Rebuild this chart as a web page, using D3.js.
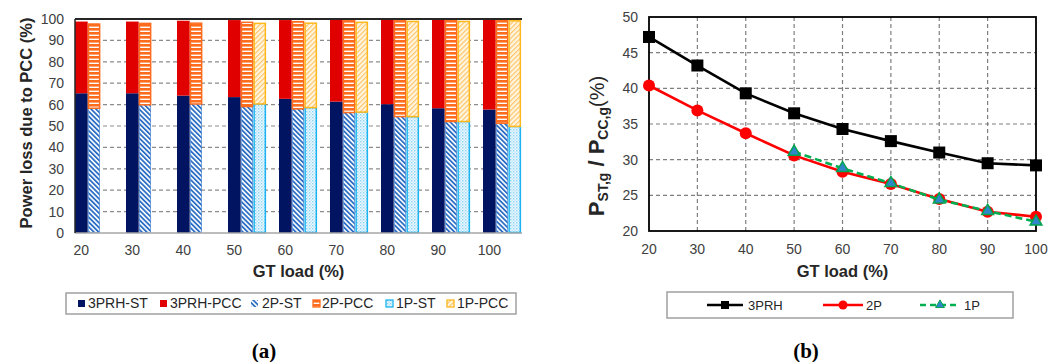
<!DOCTYPE html>
<html><head><meta charset="utf-8">
<script src="https://cdn.jsdelivr.net/npm/d3@7"></script>
<style>body{margin:0;background:#fff;}svg{display:block;font-family:"Liberation Sans",Arial,sans-serif;}</style>
</head><body>
<svg id="c" width="1061" height="362"></svg>
<script>
// ---------- data ----------
const categories = [20,30,40,50,60,70,80,90,100];
const st3PRH  = [65.3,65.3,64.2,63.5,62.7,61.4,60.2,58.3,57.7];
const pcc3PRH = [33.5,33.5,35.0,36.0,36.8,38.6,39.8,41.7,42.3];
const st2P    = [58.3,59.9,60.3,59.1,58.0,56.3,54.4,52.1,51.3];
const pcc2P   = [39.7,38.4,38.1,39.7,41.1,43.2,45.1,47.7,48.7];
const st1P    = [null,null,null,60.3,58.6,56.5,54.4,52.1,49.8];
const pcc1P   = [null,null,null,38.0,39.8,42.3,44.8,47.1,49.7];
const barYTicks = [0,10,20,30,40,50,60,70,80,90,100];

const loads = [20,30,40,50,60,70,80,90,100];
const ratio3PRH = [47.2,43.2,39.3,36.5,34.3,32.6,31.0,29.5,29.2];
const ratio2P   = [40.4,36.9,33.7,30.6,28.3,26.6,24.5,22.7,22.0];
const ratio1P   = [null,null,null,31.1,28.8,26.7,24.4,22.8,21.3];
const lineYTicks = [20,25,30,35,40,45,50];

const svg = d3.select("#c");
const defs = svg.append("defs");
// patterns
function stripePat(id, size, color, bg, w, rot){
  const p = defs.append("pattern").attr("id",id).attr("patternUnits","userSpaceOnUse")
    .attr("width",size).attr("height",size);
  if(rot!==null) p.attr("patternTransform","rotate("+rot+")");
  p.append("rect").attr("width",size).attr("height",size).attr("fill",bg);
  p.append("rect").attr("width",w).attr("height",size).attr("fill",color);
}
stripePat("p2pst",3.4,"#2c6fc4","#ffffff",1.8,-45);
stripePat("p1ppcc",3.4,"#ffc56a","#fff6e2",1.2,45);
{
  const p = defs.append("pattern").attr("id","p2ppcc").attr("patternUnits","userSpaceOnUse").attr("width",4).attr("height",4);
  p.append("rect").attr("width",4).attr("height",4).attr("fill","#ffffff");
  p.append("rect").attr("width",4).attr("height",2.6).attr("fill","#ff6c1e");
}
{
  const p = defs.append("pattern").attr("id","p1pst").attr("patternUnits","userSpaceOnUse").attr("width",3).attr("height",3);
  p.append("rect").attr("width",3).attr("height",3).attr("fill","#eef8fe");
  p.append("rect").attr("width",1.4).attr("height",1.4).attr("fill","#8ad4f6");
  p.append("rect").attr("x",1.5).attr("y",1.5).attr("width",1.4).attr("height",1.4).attr("fill","#b5e3fa");
}

const tickColor = "#404040";

// ---------- chart (a) ----------
const A = {left:75, right:522, top:19, bottom:233};
const xA = d3.scaleBand().domain(categories).range([A.left, A.left + 51*categories.length]).padding(0);
const groups = ["3PRH","2P","1P"];
const xIn = d3.scaleBand().domain(groups).range([0, 38.1]).padding(0);
const yA = d3.scaleLinear().domain([0,100]).range([A.bottom, A.top]);

const gA = svg.append("g");
// grid
gA.selectAll("line.grid").data(barYTicks.filter(t=>t>0 && t<100)).join("line")
  .attr("x1",A.left).attr("x2",A.right).attr("y1",d=>yA(d)).attr("y2",d=>yA(d))
  .attr("stroke","#8c8c8c").attr("stroke-width",1.2).attr("stroke-dasharray","4,3");

const seriesA = [
  {g:"3PRH", st:st3PRH, pcc:pcc3PRH, stFill:"#001462", pccFill:"#e00000", stStroke:"none", pccStroke:"none"},
  {g:"2P", st:st2P, pcc:pcc2P, stFill:"url(#p2pst)", pccFill:"url(#p2ppcc)", stStroke:"#3a7bd0", pccStroke:"#ff6c1e"},
  {g:"1P", st:st1P, pcc:pcc1P, stFill:"url(#p1pst)", pccFill:"url(#p1ppcc)", stStroke:"#1cb4f0", pccStroke:"#ffb81c"}
];
seriesA.forEach(s=>{
  const data = categories.map((c,i)=>({c, st:s.st[i], pcc:s.pcc[i]})).filter(d=>d.st!==null);
  const inset = s.stStroke==="none" ? 0 : 0.75;
  gA.selectAll(null).data(data).join("rect")
    .attr("x",d=>xA(d.c)+xIn(s.g)+inset).attr("width",xIn.bandwidth()-2*inset)
    .attr("y",d=>yA(d.st)).attr("height",d=>yA(0)-yA(d.st)-(inset?0.5:0))
    .attr("fill",s.stFill).attr("stroke",s.stStroke).attr("stroke-width",s.g==="2P"?0.6:1.5);
  gA.selectAll(null).data(data).join("rect")
    .attr("x",d=>xA(d.c)+xIn(s.g)+inset).attr("width",xIn.bandwidth()-2*inset)
    .attr("y",d=>yA(d.st+d.pcc)+inset).attr("height",d=>yA(d.st)-yA(d.st+d.pcc)-inset)
    .attr("fill",s.pccFill).attr("stroke",s.pccStroke).attr("stroke-width",1.5);
});
// axes lines
gA.append("line").attr("x1",A.left).attr("x2",A.right).attr("y1",A.bottom).attr("y2",A.bottom).attr("stroke","#a6a6a6").attr("stroke-width",1.5);
gA.append("line").attr("x1",A.left).attr("x2",A.right).attr("y1",A.top).attr("y2",A.top).attr("stroke","#262626").attr("stroke-width",1.8);
gA.append("line").attr("x1",A.left).attr("x2",A.left).attr("y1",A.top).attr("y2",A.bottom).attr("stroke","#262626").attr("stroke-width",1.5);
// y ticks
gA.selectAll("text.yt").data(barYTicks).join("text")
  .attr("x",A.left-11).attr("y",d=>yA(d)).attr("dy","0.35em").attr("text-anchor","end")
  .attr("font-size",14).attr("fill",tickColor).text(d=>d);
// x ticks
gA.selectAll("text.xt").data(categories).join("text")
  .attr("x",d=>xA(d)+xIn("3PRH")+xIn.bandwidth()/2).attr("y",255).attr("text-anchor","middle")
  .attr("font-size",14).attr("fill",tickColor).text(d=>d);
gA.append("text").attr("x",(A.left+A.right)/2).attr("y",277).attr("text-anchor","middle")
  .attr("font-size",16.5).attr("font-weight","bold").attr("fill","#262626").text("GT load (%)");
gA.append("text").attr("transform","translate(32,123) rotate(-90)").attr("text-anchor","middle")
  .attr("font-size",16.5).attr("font-weight","bold").attr("fill","#262626").text("Power loss due to PCC (%)");
// legend (a)
gA.append("rect").attr("x",66).attr("y",293).attr("width",450).attr("height",21).attr("fill","#fff").attr("stroke","#a0a0a0").attr("stroke-width",1.5);
const legA = [
  {t:"3PRH-ST", f:"#001462", s:"none", mx:78, tx:88},
  {t:"3PRH-PCC", f:"#e00000", s:"none", mx:160, tx:170},
  {t:"2P-ST", f:"url(#p2pst)", s:"none", mx:251, tx:262},
  {t:"2P-PCC", f:"url(#p2ppcc)", s:"#ff6c1e", mx:313, tx:322},
  {t:"1P-ST", f:"url(#p1pst)", s:"#1cb4f0", mx:386, tx:396},
  {t:"1P-PCC", f:"url(#p1ppcc)", s:"#ffb81c", mx:447, tx:457}
];
legA.forEach(l=>{
  gA.append("rect").attr("x",l.mx).attr("y",300).attr("width",7).attr("height",7).attr("fill",l.f).attr("stroke",l.s).attr("stroke-width",1.3);
  gA.append("text").attr("x",l.tx).attr("y",303.5).attr("dy","0.35em").attr("font-size",14).attr("fill","#262626").text(l.t);
});
svg.append("text").attr("x",264).attr("y",358).attr("text-anchor","middle").attr("font-family","'Liberation Serif','DejaVu Serif',serif")
  .attr("font-size",21).attr("font-weight","bold").attr("fill","#000").text("(a)");

// ---------- chart (b) ----------
const B = {left:649, right:1036, top:17, bottom:231};
const xB = d3.scaleLinear().domain([20,100]).range([B.left,B.right]);
const yB = d3.scaleLinear().domain([20,50]).range([B.bottom,B.top]);
const gB = svg.append("g");
gB.selectAll(null).data(loads.slice(1,-1)).join("line")
  .attr("x1",d=>xB(d)).attr("x2",d=>xB(d)).attr("y1",B.top).attr("y2",B.bottom)
  .attr("stroke","#7f7f7f").attr("stroke-width",1.2).attr("stroke-dasharray","4,3");
gB.selectAll(null).data(lineYTicks.slice(1,-1)).join("line")
  .attr("x1",B.left).attr("x2",B.right).attr("y1",d=>yB(d)).attr("y2",d=>yB(d))
  .attr("stroke","#7f7f7f").attr("stroke-width",1.2).attr("stroke-dasharray","4,3");
gB.append("rect").attr("x",B.left).attr("y",B.top).attr("width",B.right-B.left).attr("height",B.bottom-B.top)
  .attr("fill","none").attr("stroke","#000").attr("stroke-width",1.8);
gB.selectAll(null).data(lineYTicks).join("text")
  .attr("x",B.left-11).attr("y",d=>yB(d)).attr("dy","0.35em").attr("text-anchor","end")
  .attr("font-size",14).attr("fill",tickColor).text(d=>d);
gB.selectAll(null).data(loads).join("text")
  .attr("x",d=>xB(d)).attr("y",254).attr("text-anchor","middle")
  .attr("font-size",14).attr("fill",tickColor).text(d=>d);
gB.append("text").attr("x",(B.left+B.right)/2).attr("y",277).attr("text-anchor","middle")
  .attr("font-size",16.5).attr("font-weight","bold").attr("fill","#262626").text("GT load (%)");
{
  const t = gB.append("text").attr("transform","translate(604,146) rotate(-90)").attr("text-anchor","middle")
    .attr("font-weight","bold").attr("fill","#262626");
  t.append("tspan").attr("font-size",22).text("P");
  t.append("tspan").attr("font-size",14).attr("dy",4).text("ST,g");
  t.append("tspan").attr("font-size",22).attr("dy",-4).text(" / P");
  t.append("tspan").attr("font-size",14).attr("dy",4).text("CC,g");
  t.append("tspan").attr("font-size",20).attr("dy",-4).attr("font-weight","normal").text("(%)");
}
const line = d3.line().defined(d=>d.v!==null).x(d=>xB(d.x)).y(d=>yB(d.v));
const ser = [
  {vals:ratio3PRH, color:"#000", dash:null, mk:"square"},
  {vals:ratio2P, color:"#ff0000", dash:null, mk:"circle"},
  {vals:ratio1P, color:"#00b050", dash:"7,4", mk:"triangle"}
];
function marker(g, type, x, y){
  if(type==="square") g.append("rect").attr("x",x-6).attr("y",y-6).attr("width",12).attr("height",12).attr("fill","#000");
  else if(type==="circle") g.append("circle").attr("cx",x).attr("cy",y).attr("r",6).attr("fill","#ff0000");
  else g.append("path").attr("d",d3.symbol(d3.symbolTriangle,60)()).attr("transform",`translate(${x},${y})`)
    .attr("fill","#2f86c8").attr("stroke","#00a550").attr("stroke-width",1.5);
}
ser.forEach(s=>{
  const data = loads.map((x,i)=>({x, v:s.vals[i]}));
  gB.append("path").datum(data).attr("d",line).attr("fill","none").attr("stroke",s.color).attr("stroke-width",2.6)
    .attr("stroke-dasharray",s.dash);
  data.filter(d=>d.v!==null).forEach(d=>marker(gB,s.mk,xB(d.x),yB(d.v)));
});
// legend (b)
gB.append("rect").attr("x",667).attr("y",292).attr("width",346).attr("height",26).attr("fill","#fff").attr("stroke","#a0a0a0").attr("stroke-width",1.5);
const legB = [
  {t:"3PRH", c:"#000", dash:null, mk:"square", x1:707, x2:743, tx:748},
  {t:"2P", c:"#ff0000", dash:null, mk:"circle", x1:823, x2:863, tx:866},
  {t:"1P", c:"#00b050", dash:"6,4", mk:"triangle", x1:920, x2:960, tx:964}
];
legB.forEach(l=>{
  gB.append("line").attr("x1",l.x1).attr("x2",l.x2).attr("y1",305).attr("y2",305).attr("stroke",l.c).attr("stroke-width",2.6).attr("stroke-dasharray",l.dash);
  const mx=(l.x1+l.x2)/2;
  if(l.mk==="square") gB.append("rect").attr("x",mx-4).attr("y",301).attr("width",8).attr("height",8).attr("fill","#000");
  else if(l.mk==="circle") gB.append("circle").attr("cx",mx).attr("cy",305).attr("r",4.5).attr("fill","#ff0000");
  else gB.append("path").attr("d",d3.symbol(d3.symbolTriangle,34)()).attr("transform",`translate(${mx},${305})`).attr("fill","#2f86c8").attr("stroke","#00a550").attr("stroke-width",1);
  gB.append("text").attr("x",l.tx).attr("y",305).attr("dy","0.35em").attr("font-size",13).attr("fill","#262626").text(l.t);
});
svg.append("text").attr("x",806).attr("y",358).attr("text-anchor","middle").attr("font-family","'Liberation Serif','DejaVu Serif',serif")
  .attr("font-size",21).attr("font-weight","bold").attr("fill","#000").text("(b)");
</script>
</body></html>
